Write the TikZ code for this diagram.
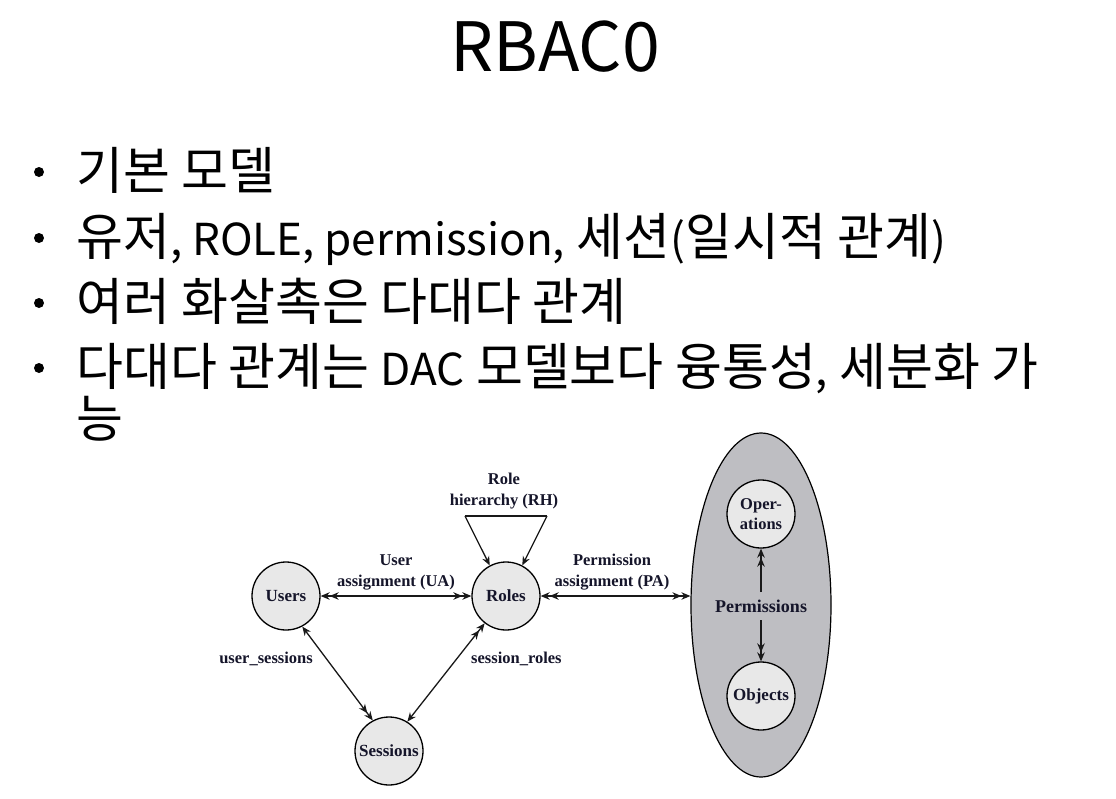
\documentclass[tikz,border=0pt]{standalone}
\usepackage{fontspec}
\newfontfamily\kr{Noto Sans CJK KR}
\newfontfamily\dg{Liberation Serif}
\usetikzlibrary{arrows.meta,shapes.geometric}
\definecolor{circfill}{HTML}{E8E8E8}
\definecolor{ellfill}{HTML}{BEBEC2}
\definecolor{dtext}{HTML}{15152A}
\newcommand{\lat}[1]{{\fontsize{44}{44}\selectfont #1}}
\tikzset{
  bul/.style={anchor=base west,inner sep=0pt,font=\kr\fontsize{51}{51}\selectfont},
  dot/.style={circle,fill=black,inner sep=0pt,minimum size=10pt},
  ent/.style={circle,draw=black,line width=1.3pt,fill=circfill,minimum size=68pt,inner sep=0pt,font=\dg\bfseries\fontsize{17}{18}\selectfont,text=dtext},
  lbl/.style={inner sep=0pt,align=center,font=\dg\bfseries\fontsize{16.5}{21}\selectfont,text=dtext},
  tip/.tip={Stealth[length=9pt,width=7.5pt]},
  conn/.style={line width=1.3pt,draw=black!90},
  one/.style={conn,-{tip}},
  manyboth/.style={conn,{tip[]tip[]}-{tip[]tip[]}},
  onemany/.style={conn,{tip}-{tip[]tip[]}},
}
\begin{document}
\begin{tikzpicture}[x=1pt,y=-1pt]
\useasboundingbox (0,0) rectangle (1116,798);
\fill[white] (0,0) rectangle (1116,798);
% title
\node[anchor=base,inner sep=0pt,font=\kr\fontsize{68}{68}\selectfont] (title) at (555,71) {RBAC0};
% bullets
\node[dot] (d1) at (39,172) {};
\node[dot] (d2) at (39,238) {};
\node[dot] (d3) at (39,303) {};
\node[dot] (d4) at (39,368) {};
\node[bul] (b1) at (76,189) {기본 모델};
\node[bul] (b2) at (76,255) {유저\lat{, ROLE, permission,} 세션\lat{(}일시적 관계\lat{)}};
\node[bul] (b3) at (76,320) {여러 화살촉은 다대다 관계};
\node[bul] (b4) at (76,385) {다대다 관계는 \lat{DAC} 모델보다 융통성\lat{,} 세분화 가};
\node[bul] (b5) at (76,437) {능};
% diagram
\node[ellipse,draw=black,line width=1.2pt,fill=ellfill,minimum width=140pt,minimum height=344pt,inner sep=0pt] (perm) at (761,605) {};
\node[ent] (users) at (286,596) {Users};
\node[ent] (roles) at (506,596) {Roles};
\node[ent] (sess) at (389,751) {Sessions};
\node[ent,align=center,font=\dg\bfseries\fontsize{16.5}{20}\selectfont] (ops) at (761,514) {Oper-\\ations};
\node[ent] (objs) at (761,696) {Objects};
\node[lbl,font=\dg\bfseries\fontsize{18}{20}\selectfont] (permlbl) at (761,606) {Permissions};
\node[lbl] (ualbl) at (396,572) {User\\assignment (UA)};
\node[lbl] (palbl) at (612,572) {Permission\\assignment (PA)};
\node[lbl] (rhlbl) at (504,491) {Role\\hierarchy (RH)};
\node[lbl,anchor=east] (uslbl) at (313,659) {user\_sessions};
\node[lbl,anchor=west] (srlbl) at (471,659) {session\_roles};
% connectors
\draw[manyboth] (users.east) -- (roles.west);
\draw[manyboth] (roles.east) -- (roles.east -| perm.west);
\coordinate (rhl) at (465,516);
\coordinate (rhr) at (547,516);
\draw[conn] (rhl) -- (rhr);
\draw[one] (rhl) -- (roles.118);
\draw[one] (rhr) -- (roles.62);
\draw[onemany] (users.-62) -- (sess.118);
\draw[onemany] (sess.58) -- (roles.-128);
\coordinate (pn) at (761,592);
\coordinate (ps) at (761,620);
\draw[conn,-{tip[]tip[]}] (pn) -- (ops.south);
\draw[conn,-{tip[]tip[]}] (ps) -- (objs.north);
\end{tikzpicture}
\end{document}
